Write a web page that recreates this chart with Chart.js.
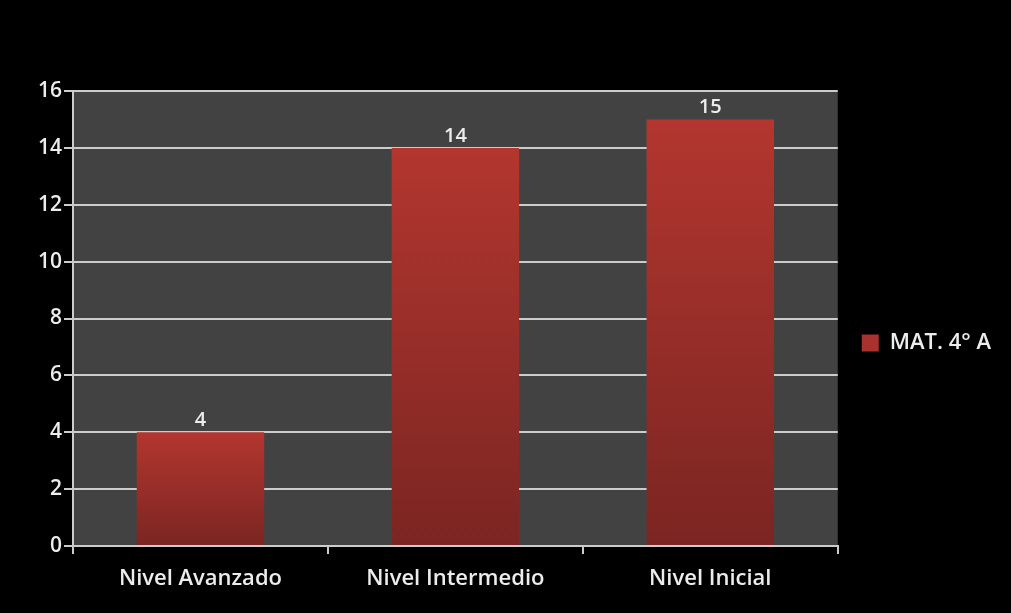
<!DOCTYPE html>
<html>
<head>
<meta charset="utf-8">
<script src="https://cdn.jsdelivr.net/npm/chart.js@4"></script>
<style>
  html, body { margin: 0; padding: 0; background: #000; }
  #wrap { width: 1011px; height: 613px; position: relative; }
</style>
</head>
<body>
<div id="wrap"><canvas id="chart"></canvas></div>
<script>
// categories and values for the bars
const categories = ['Nivel Avanzado', 'Nivel Intermedio', 'Nivel Inicial'];
const values = [4, 14, 15];
const seriesName = 'MAT. 4° A';
const yTicks = [0, 2, 4, 6, 8, 10, 12, 14, 16];

const fontFamily = '"Open Sans", "Noto Sans", sans-serif';
const textColor = '#ececec';
const lineColor = '#cccccc';
const labelFont = { family: fontFamily, size: 21, weight: '600' };

// grey plot background
const plotBackground = {
    id: 'plotBackground',
    beforeDraw(chart) {
        const { ctx, chartArea: a } = chart;
        ctx.save();
        ctx.fillStyle = '#424242';
        ctx.fillRect(a.left, a.top, a.right - a.left, a.bottom - a.top);
        ctx.restore();
    }
};

// value written above each bar
const barLabels = {
    id: 'barLabels',
    afterDatasetsDraw(chart) {
        const { ctx } = chart;
        const meta = chart.getDatasetMeta(0);
        ctx.save();
        ctx.fillStyle = textColor;
        ctx.font = '600 20px ' + fontFamily;
        ctx.textAlign = 'center';
        ctx.textBaseline = 'alphabetic';
        meta.data.forEach((bar, i) => {
            ctx.fillText(String(values[i]), bar.x, bar.y - 6);
        });
        ctx.restore();
    }
};

// red gradient from bar top to the baseline
function barGradient(context) {
    const chart = context.chart;
    if (!chart.chartArea) return '#a0302b';
    const y = chart.scales.y;
    const top = y.getPixelForValue(context.raw);
    const bottom = y.getPixelForValue(0);
    const g = chart.ctx.createLinearGradient(0, top, 0, bottom);
    g.addColorStop(0, '#b3362f');
    g.addColorStop(1, '#7b2522');
    return g;
}

new Chart(document.getElementById('chart'), {
    type: 'bar',
    data: {
        labels: categories,
        datasets: [{
            label: seriesName,
            data: values,
            backgroundColor: barGradient,
            borderWidth: 0,
            categoryPercentage: 1,
            barPercentage: 0.5
        }]
    },
    options: {
        responsive: true,
        maintainAspectRatio: false,
        animation: false,
        layout: {
            padding: { top: 91, right: 10, bottom: 18, left: 0 }
        },
        plugins: {
            legend: {
                display: true,
                position: 'right',
                labels: {
                    color: textColor,
                    font: { family: fontFamily, size: 22, weight: '600' },
                    boxWidth: 17,
                    boxHeight: 17,
                    padding: 24,
                    generateLabels(chart) {
                        return [{
                            text: seriesName,
                            fillStyle: '#a8322d',
                            strokeStyle: '#a8322d',
                            lineWidth: 0,
                            fontColor: textColor,
                            datasetIndex: 0
                        }];
                    }
                }
            },
            tooltip: { enabled: false }
        },
        scales: {
            x: {
                afterFit(scale) { scale.height = 49; },
                grid: {
                    offset: true,
                    drawOnChartArea: false,
                    drawTicks: true,
                    tickLength: 8,
                    color: lineColor,
                    lineWidth: 2
                },
                border: { display: true, color: lineColor, width: 2 },
                ticks: {
                    color: textColor,
                    font: { family: fontFamily, size: 22, weight: '600' },
                    padding: 12
                }
            },
            y: {
                min: 0,
                max: 16,
                afterFit(scale) { scale.width = 73; },
                afterBuildTicks(scale) {
                    scale.ticks = yTicks.map(v => ({ value: v }));
                },
                grid: {
                    color: lineColor,
                    lineWidth: 2,
                    tickLength: 9
                },
                border: { display: true, color: lineColor, width: 2 },
                ticks: {
                    color: textColor,
                    font: labelFont,
                    padding: 2
                }
            }
        }
    },
    plugins: [plotBackground, barLabels]
});
</script>
</body>
</html>
